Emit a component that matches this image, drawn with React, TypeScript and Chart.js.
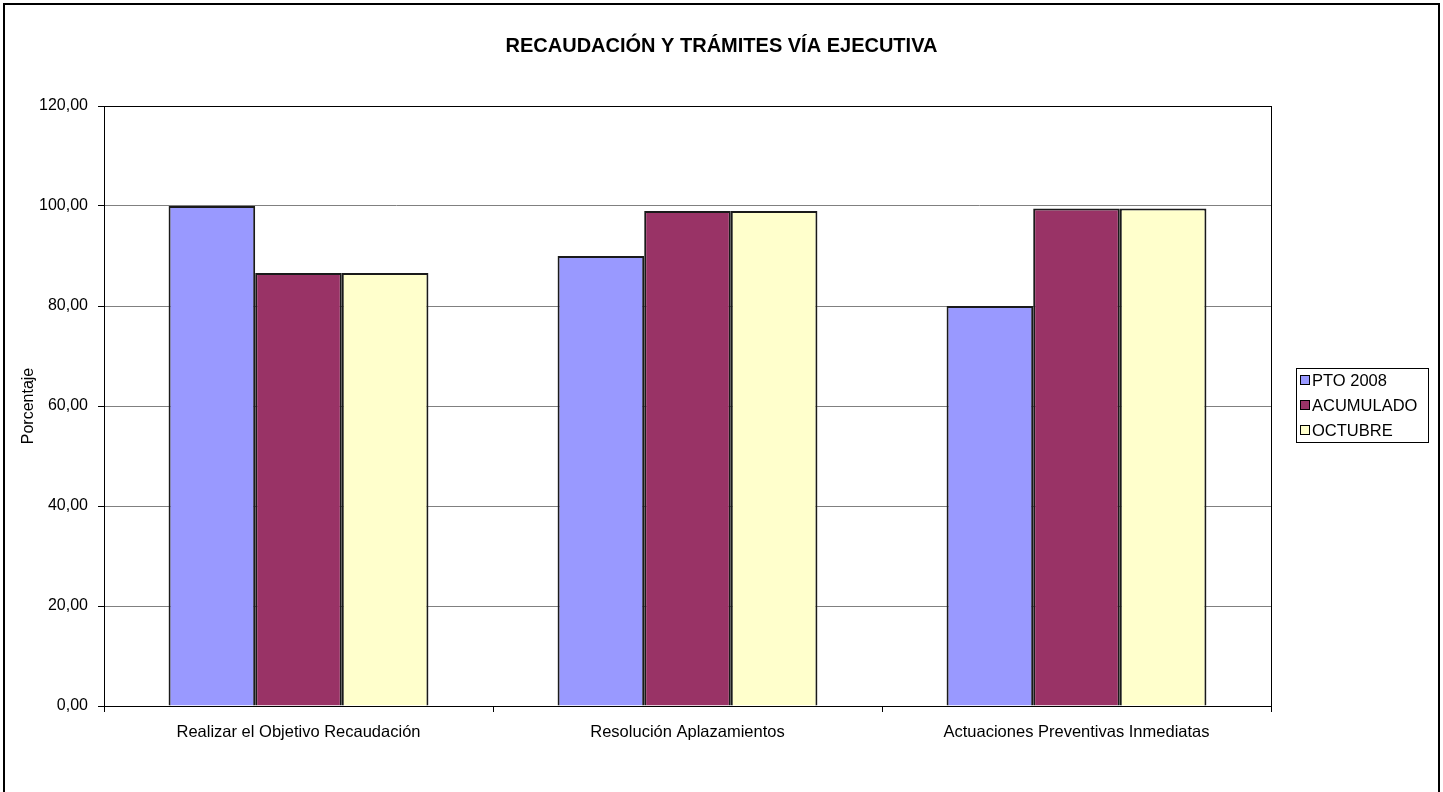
import React, { useEffect, useRef } from "react";
import { Chart, registerables } from "chart.js";

Chart.register(...registerables);

const categories = [
  "Realizar el Objetivo Recaudación",
  "Resolución Aplazamientos",
  "Actuaciones Preventivas Inmediatas",
];
const seriesNames = ["PTO 2008", "ACUMULADO", "OCTUBRE"];
const pto2008 = [100, 90, 80];
const acumulado = [86.6, 99.0, 99.5];
const octubre = [86.6, 99.0, 99.5];
const seriesColors = ["#9999FF", "#993366", "#FFFFCC"];
const chartTitle = "RECAUDACIÓN Y TRÁMITES VÍA EJECUTIVA";
const yAxisTitle = "Porcentaje";
const yMin = 0;
const yMax = 120;
const yStep = 20;

const FONT = "Arial, 'Liberation Sans', sans-serif";

const decorPlugin = {
  id: "decor",
  afterDraw(chart: any) {
    const { ctx, chartArea, width } = chart;
    ctx.save();
    // outer border
    ctx.strokeStyle = "#000";
    ctx.lineWidth = 2;
    ctx.strokeRect(4, 4, width - 8, chart.height + 20);
    // plot frame
    ctx.lineWidth = 1;
    ctx.strokeRect(
      Math.round(chartArea.left) + 0.5,
      Math.round(chartArea.top) + 0.5,
      Math.round(chartArea.right - chartArea.left),
      Math.round(chartArea.bottom - chartArea.top)
    );
    // title
    ctx.fillStyle = "#000";
    ctx.font = `bold 20px ${FONT}`;
    ctx.textAlign = "center";
    ctx.textBaseline = "middle";
    ctx.fillText(chartTitle, width / 2, 46);
    // legend
    ctx.font = `16.5px ${FONT}`;
    const rowH = 25;
    const n = seriesNames.length;
    const boxLeft = chartArea.right + 25;
    const boxW = 132;
    const boxH = 74;
    const cy = (chartArea.top + chartArea.bottom) / 2;
    const boxTop = Math.round(cy - boxH / 2 - 1);
    ctx.lineWidth = 1;
    ctx.strokeStyle = "#000";
    ctx.strokeRect(boxLeft + 0.5, boxTop + 0.5, boxW, boxH);
    ctx.textAlign = "left";
    for (let i = 0; i < n; i++) {
      const y = boxTop + 12 + i * rowH;
      ctx.fillStyle = seriesColors[i];
      ctx.fillRect(boxLeft + 4, y - 5, 10, 10);
      ctx.strokeStyle = "#000";
      ctx.strokeRect(boxLeft + 4.5, y - 4.5, 9, 9);
      ctx.fillStyle = "#000";
      ctx.fillText(seriesNames[i], boxLeft + 16, y + 1);
    }
    ctx.restore();
  },
};

export default function App() {
  const ref = useRef<HTMLCanvasElement | null>(null);
  useEffect(() => {
    document.body.style.margin = "0";
    const canvas = ref.current;
    if (!canvas) return;
    const chart = new Chart(canvas, {
      type: "bar",
      data: {
        labels: categories,
        datasets: [pto2008, acumulado, octubre].map((d, i) => ({
          label: seriesNames[i],
          data: d,
          backgroundColor: seriesColors[i],
          borderColor: "#1a1a1a",
          borderWidth: 2,
          categoryPercentage: 0.668,
          barPercentage: 1.0,
        })),
      },
      options: {
        responsive: true,
        maintainAspectRatio: false,
        animation: false,
        devicePixelRatio: 1,
        layout: { padding: { top: 106, left: 0, right: 172, bottom: 0 } },
        plugins: {
          legend: { display: false },
          title: { display: false },
          tooltip: { enabled: false },
        },
        scales: {
          x: {
            offset: true,
            grid: {
              display: true,
              drawOnChartArea: false,
              offset: true,
              tickLength: 6,
              tickColor: "#000",
              color: "#000",
            },
            border: { color: "#000", width: 1 },
            ticks: {
              color: "#000",
              font: { family: FONT, size: 16.5 },
              padding: 11,
              maxRotation: 0,
              autoSkip: false,
            },
            afterFit(s: any) {
              s.height = 86;
              s.paddingLeft = 0;
              s.paddingRight = 0;
            },
          },
          y: {
            min: yMin,
            max: yMax,
            grid: {
              color: "#808080",
              tickColor: "#000",
              tickLength: 6,
            },
            border: { color: "#000", width: 1 },
            ticks: {
              stepSize: yStep,
              color: "#000",
              font: { family: FONT, size: 16 },
              padding: 10,
              callback: (v: any) => Number(v).toFixed(2).replace(".", ","),
            },
            title: {
              display: true,
              text: yAxisTitle,
              color: "#000",
              font: { family: FONT, size: 16 },
              padding: { top: 19, bottom: 0 },
            },
            afterFit(s: any) {
              s.width = 104;
              s.paddingTop = 0;
              s.paddingBottom = 0;
            },
          },
        },
      },
      plugins: [decorPlugin],
    });
    return () => chart.destroy();
  }, []);
  return (
    <div style={{ width: 1443, height: 792, position: "relative", background: "#fff" }}>
      <canvas ref={ref} />
    </div>
  );
}
